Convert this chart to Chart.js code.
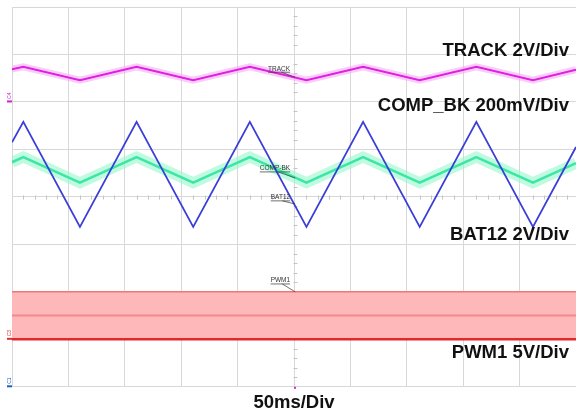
<!DOCTYPE html>
<html>
<head>
<meta charset="utf-8">
<script src="https://cdn.jsdelivr.net/npm/chart.js@4.4.0/dist/chart.umd.min.js"></script>
<style>
  html, body { margin: 0; padding: 0; background: #fff; overflow: hidden; }
  #wrap { width: 576px; height: 416px; }
</style>
</head>
<body>
<div id="wrap"><canvas id="scope" width="576" height="416"></canvas></div>
<script>
// time in ms (50 ms per division), traces in screen divisions (0 = bottom, 8 = top)
const timeMs = [0, 10, 60, 110, 160, 210, 260, 310, 360, 410, 460, 498];
const track  = [6.69, 6.74, 6.46, 6.74, 6.46, 6.74, 6.46, 6.74, 6.46, 6.74, 6.46, 6.68];
const compBk = [4.73, 4.84, 4.30, 4.84, 4.30, 4.84, 4.30, 4.84, 4.30, 4.84, 4.30, 4.71];
const bat12  = [5.15, 5.58, 3.37, 5.58, 3.37, 5.58, 3.37, 5.58, 3.37, 5.58, 3.37, 5.05];
const pwmTime = [0, 498];
const pwmHigh = [2.0, 2.0];
const pwmMid  = [1.5, 1.5];
const pwmLow  = [1.0, 1.0];

const channelLabels = ['TRACK 2V/Div', 'COMP_BK 200mV/Div', 'BAT12 2V/Div', 'PWM1 5V/Div'];
const tagLabels = ['TRACK', 'COMP-BK', 'BAT12', 'PWM1'];
const timeLabel = '50ms/Div';

const FONT = '"Liberation Sans", Arial, sans-serif';
const GRID = '#d8d8d8';

const pts = (xs, ys) => xs.map((x, i) => ({ x: x, y: ys[i] }));

function trace(data, color, width, order, extra) {
  return Object.assign({
    data: data,
    borderColor: color,
    borderWidth: width,
    pointRadius: 0,
    tension: 0,
    fill: false,
    order: order
  }, extra || {});
}

// grid decorations and on-screen labels
const scopeDecor = {
  id: 'scopeDecor',
  beforeDatasetsDraw(chart) {
    const ctx = chart.ctx;
    const xs = chart.scales.x, ys = chart.scales.y;
    const xc = Math.round(xs.getPixelForValue(250)) + 0.5;
    const yc = Math.round(ys.getPixelForValue(4)) + 0.5;
    ctx.save();
    ctx.strokeStyle = '#c4c4c4';
    ctx.lineWidth = 1;
    ctx.beginPath();
    for (let t = 10; t < 498; t += 10) {
      if (t % 50 === 0) continue;
      const px = Math.round(xs.getPixelForValue(t)) + 0.5;
      ctx.moveTo(px, yc - 2); ctx.lineTo(px, yc + 2);
    }
    for (let v = 0.2; v < 8; v += 0.2) {
      if (Math.abs(v - Math.round(v)) < 0.01) continue;
      const py = Math.round(ys.getPixelForValue(v)) + 0.5;
      ctx.moveTo(xc - 2, py); ctx.lineTo(xc + 2, py);
    }
    ctx.stroke();
    ctx.restore();
  },
  afterDatasetsDraw(chart) {
    const ctx = chart.ctx;
    const xs = chart.scales.x, ys = chart.scales.y;
    const xc = xs.getPixelForValue(250);
    ctx.save();

    // small trace tags near the centre line
    const tags = [
      { t: tagLabels[0], y: ys.getPixelForValue(6.7), to: ys.getPixelForValue(6.52) },
      { t: tagLabels[1], y: ys.getPixelForValue(4.6), to: ys.getPixelForValue(4.4) },
      { t: tagLabels[2], y: ys.getPixelForValue(3.99), to: ys.getPixelForValue(3.85) },
      { t: tagLabels[3], y: ys.getPixelForValue(2.24), to: ys.getPixelForValue(2.0) }
    ];
    ctx.font = '6.5px ' + FONT;
    ctx.textAlign = 'right';
    ctx.textBaseline = 'alphabetic';
    tags.forEach(function (g) {
      const right = xc - 5;
      const w = ctx.measureText(g.t).width;
      ctx.fillStyle = '#333';
      ctx.fillText(g.t, right, g.y + 2);
      ctx.strokeStyle = '#333';
      ctx.lineWidth = 0.7;
      ctx.beginPath();
      ctx.moveTo(right - w, g.y + 3.5);
      ctx.lineTo(right, g.y + 3.5);
      ctx.moveTo(right - w * 0.4, g.y + 3.5);
      ctx.lineTo(xc, g.to);
      ctx.stroke();
    });

    // channel ground markers on the left edge
    const left = chart.chartArea.left;
    const marks = [
      { t: 'C4', c: '#d020d0', v: 6.0 },
      { t: 'C3', c: '#e03030', v: 1.0 },
      { t: 'C1', c: '#2060c0', v: 0.0 }
    ];
    marks.forEach(function (m) {
      const py = ys.getPixelForValue(m.v);
      ctx.fillStyle = m.c;
      ctx.fillRect(left - 5, py - 1.5, 5, 2);
      ctx.save();
      ctx.translate(left - 3, py - 3);
      ctx.rotate(-Math.PI / 2);
      ctx.font = '5px ' + FONT;
      ctx.textAlign = 'left';
      ctx.fillText(m.t, 0, 2);
      ctx.restore();
    });
    ctx.fillStyle = '#e020e0';
    ctx.fillRect(Math.round(xc) - 1, chart.chartArea.bottom, 2, 2);

    // channel scale labels
    ctx.fillStyle = '#111';
    ctx.font = 'bold 18.5px ' + FONT;
    ctx.textAlign = 'right';
    ctx.textBaseline = 'alphabetic';
    const rx = 569;
    ctx.fillText(channelLabels[0], rx, ys.getPixelForValue(6.97));
    ctx.fillText(channelLabels[1], rx, ys.getPixelForValue(5.81));
    ctx.fillText(channelLabels[2], rx, ys.getPixelForValue(3.09));
    ctx.fillText(channelLabels[3], rx, ys.getPixelForValue(0.6));
    ctx.restore();
  }
};

new Chart(document.getElementById('scope').getContext('2d'), {
  type: 'line',
  data: {
    datasets: [
      trace(pts(timeMs, bat12), '#3a3fd8', 1.8, 0),
      trace(pts(timeMs, track), '#e020e0', 2, 1),
      trace(pts(timeMs, track), 'rgba(246,170,246,0.6)', 7, 2),
      trace(pts(timeMs, compBk), '#3ce6a4', 2.5, 3),
      trace(pts(timeMs, compBk), 'rgba(150,248,205,0.6)', 11, 4),
      trace(pts(pwmTime, pwmLow), '#e02a2a', 2.5, 5),
      trace(pts(pwmTime, pwmMid), '#f08a8a', 2, 6),
      trace(pts(pwmTime, pwmHigh), '#f07575', 1.5, 7, { fill: { target: 8 }, backgroundColor: '#ffb8ba' }),
      trace(pts(pwmTime, pwmLow), 'rgba(0,0,0,0)', 0, 8)
    ]
  },
  options: {
    responsive: false,
    animation: false,
    devicePixelRatio: 1,
    layout: { padding: { left: 12, top: 7, right: 0, bottom: 0 } },
    plugins: {
      legend: { display: false },
      tooltip: { enabled: false }
    },
    scales: {
      x: {
        type: 'linear',
        min: 0,
        max: 498,
        ticks: { display: false, stepSize: 50, includeBounds: false },
        grid: { color: GRID, drawTicks: false },
        border: { color: GRID },
        title: {
          display: true,
          text: timeLabel,
          color: '#111',
          font: { family: FONT, size: 18.5, weight: 'bold' },
          padding: { top: 5, bottom: 2 }
        }
      },
      y: {
        min: 0,
        max: 8,
        ticks: { display: false, stepSize: 1 },
        grid: { color: GRID, drawTicks: false },
        border: { color: GRID }
      }
    }
  },
  plugins: [scopeDecor]
});
</script>
</body>
</html>
